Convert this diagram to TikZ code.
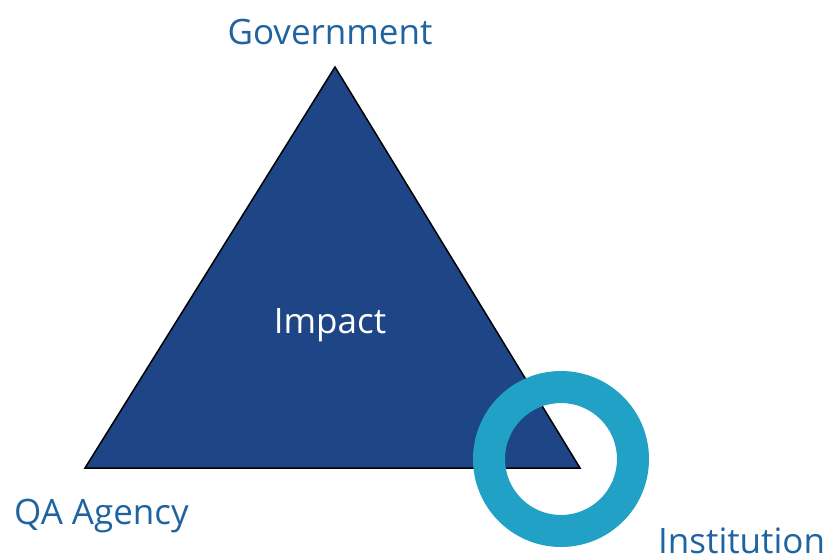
\documentclass[tikz,border=0pt]{standalone}
\usepackage{fontspec}
\setmainfont{Open Sans}
\definecolor{tridark}{RGB}{30,69,133}
\definecolor{ringblue}{RGB}{32,161,197}
\definecolor{labelblue}{RGB}{31,100,160}
\begin{document}
\begin{tikzpicture}[x=1pt,y=-1pt,
  corner/.style={text=labelblue,font=\fontsize{35}{40}\selectfont,inner sep=0pt},
  centre/.style={text=white,font=\fontsize{35}{40}\selectfont,inner sep=0pt}]
\useasboundingbox (0,0) rectangle (826,554);
% the triangle
\coordinate (top) at (335,67);
\coordinate (bl) at (85,468);
\coordinate (br) at (580,468);
\draw[fill=tridark,draw=black,line width=1.5pt,line join=miter] (top) -- (bl) -- (br) -- cycle;
% the ring over the right corner
\coordinate (rc) at (561,459);
\fill[ringblue,even odd rule] (rc) circle[radius=88] (rc) circle[radius=56];
% labels
\node[centre,anchor=base] (impact) at (330,333) {Impact};
\node[corner,anchor=base] (gov) at (330,44) {Government};
\node[corner,anchor=base west] (qa) at (14,524) {QA Agency};
\node[corner,anchor=base west] (inst) at (658,553) {Institution};
\end{tikzpicture}
\end{document}
